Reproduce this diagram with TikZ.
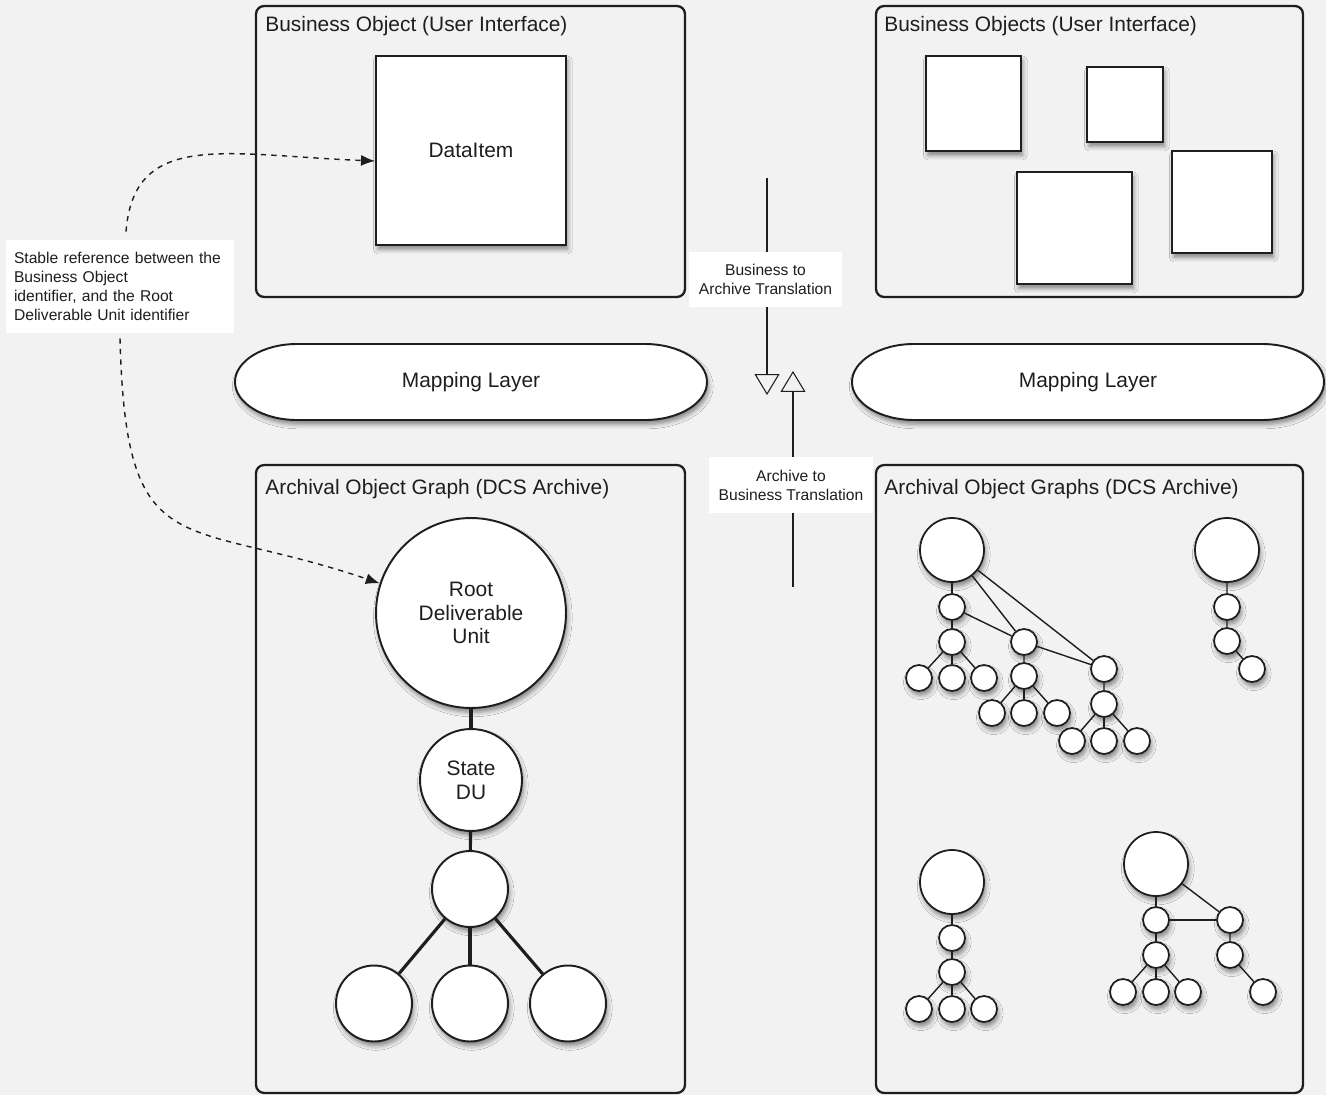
\documentclass[tikz,border=0pt]{standalone}
\usepackage{fontspec}
\setmainfont{Liberation Sans}
\usetikzlibrary{arrows.meta,shadows.blur}
\definecolor{bggrey}{HTML}{F2F2F2}
\definecolor{ink}{HTML}{1E1E1E}
\tikzset{
  panel/.style={draw=ink, line width=1.3pt, rounded corners=0.16cm, inner sep=0pt},
  paneltitle/.style={anchor=base west, inner sep=0pt, text=ink, font=\fontsize{11.9}{14}\selectfont},
  whitefill/.style={fill=white, blur shadow={shadow xshift=1pt, shadow yshift=-2.5pt, shadow blur radius=2.5pt, shadow opacity=45}},
  duitem/.style={whitefill, draw=ink, line width=1.1pt, inner sep=0pt, text=ink, font=\fontsize{11.9}{13.6}\selectfont, align=center},
  duball/.style={duitem, circle},
  bigdot/.style={whitefill, circle, draw=ink, line width=1pt, minimum size=1.28cm, inner sep=0pt},
  smalldot/.style={bigdot, minimum size=0.52cm},
  link/.style={draw=ink, line width=1.8pt},
  twig/.style={draw=ink, line width=0.8pt},
  note/.style={fill=white, inner sep=0pt, text=ink, font=\fontsize{8.9}{10.8}\selectfont, align=center},
  maplabel/.style={inner sep=0pt, text=ink, font=\fontsize{11.9}{14}\selectfont},
  refline/.style={dashed, line width=0.8pt, draw=ink, -{Latex[length=0.28cm,width=0.22cm]}},
  transline/.style={line width=0.6pt, draw=ink, -{Triangle[open,length=0.42cm,width=0.5cm]}}
}
\begin{document}
\begin{tikzpicture}[x=0.02cm,y=-0.02cm]
\fill[bggrey] (0,0) rectangle (1326,1095);
\useasboundingbox (0,0) rectangle (1326,1095);
%business object
\node[panel, minimum width=8.58cm, minimum height=5.82cm] (boui) at (470.5,151.5) {};
\node[paneltitle] (boui title) at (265,32) {Business Object (User Interface)};
\node[duitem, minimum width=3.8cm, minimum height=3.78cm] (dataitem) at (471,150.5) {DataItem};
%business objects
\node[panel, minimum width=8.54cm, minimum height=5.82cm] (bosui) at (1089.5,151.5) {};
\node[paneltitle] (bosui title) at (884,32) {Business Objects (User Interface)};
\node[duitem, minimum width=1.9cm, minimum height=1.9cm] (bo1) at (973.5,103.5) {};
\node[duitem, minimum width=1.52cm, minimum height=1.5cm] (bo2) at (1125,104.5) {};
\node[duitem, minimum width=2.3cm, minimum height=2.24cm] (bo3) at (1074.5,228) {};
\node[duitem, minimum width=2cm, minimum height=2.04cm] (bo4) at (1222,202) {};
%mapping layers
\draw[whitefill, draw=ink, line width=1.1pt] (297,344) -- ++(348,0) .. controls +(34,0) and +(0,-21) .. ++(62,38) .. controls +(0,21) and +(34,0) .. ++(-62,38) -- ++(-348,0) .. controls +(-34,0) and +(0,21) .. ++(-62,-38) .. controls +(0,-21) and +(-34,0) .. ++(62,-38) -- cycle;
\node[maplabel] (mapl) at (471,382) {Mapping Layer};
\draw[whitefill, draw=ink, line width=1.1pt] (914,344) -- ++(348,0) .. controls +(34,0) and +(0,-21) .. ++(62,38) .. controls +(0,21) and +(34,0) .. ++(-62,38) -- ++(-348,0) .. controls +(-34,0) and +(0,21) .. ++(-62,-38) .. controls +(0,-21) and +(-34,0) .. ++(62,-38) -- cycle;
\node[maplabel] (mapr) at (1088,382) {Mapping Layer};
%archival object graph
\node[panel, minimum width=8.58cm, minimum height=12.56cm] (aog) at (470.5,779) {};
\node[paneltitle] (aog title) at (265,494) {Archival Object Graph (DCS Archive)};
\node[duball, minimum size=3.8cm] (rdu) at (471,613) {Root\\Deliverable\\Unit};
\node[duball, minimum size=2.04cm] (sdu) at (471,780) {State\\DU};
\node[duball, minimum size=1.52cm] (du) at (470,889) {};
\foreach \n/\x in {1/374,2/470,3/568}
  \node[duball, minimum size=1.52cm] (du\n) at (\x,1003.5) {};
\draw[link] (rdu) -- (sdu);
\draw[link] (sdu) -- (du);
\foreach \n in {1,2,3}
  \draw[link] (du) -- (du\n);
%archival object graphs
\node[panel, minimum width=8.54cm, minimum height=12.56cm] (aogs) at (1089.5,779) {};
\node[paneltitle] (aogs title) at (884,494) {Archival Object Graphs (DCS Archive)};
\node[bigdot] (ga) at (952,550) {};
\node[smalldot] (ga1) at (952,607) {};
\node[smalldot] (ga2) at (952,642) {};
\node[smalldot] (gb1) at (1024,642) {};
\node[smalldot] (gb2) at (1024,676) {};
\node[smalldot] (gc1) at (1104,669) {};
\node[smalldot] (gc2) at (1104,704) {};
\foreach \n/\x in {1/919,2/952,3/984}
  \node[smalldot] (ga2\n) at (\x,678) {};
\foreach \n/\x in {1/992,2/1024,3/1057}
  \node[smalldot] (gb2\n) at (\x,713) {};
\foreach \n/\x in {1/1072,2/1104,3/1137}
  \node[smalldot] (gc2\n) at (\x,741) {};
\draw[twig] (ga) -- (ga1) -- (ga2);
\draw[twig] (ga1) -- (gb1) -- (gb2);
\draw[twig] (ga) -- (gb1) -- (gc1) -- (gc2);
\draw[twig] (ga) -- (gc1);
\foreach \n in {1,2,3}
  \draw[twig] (ga2) -- (ga2\n) (gb2) -- (gb2\n) (gc2) -- (gc2\n);
\node[bigdot] (gd) at (1227,550) {};
\node[smalldot] (gd1) at (1227,607) {};
\node[smalldot] (gd2) at (1227,641) {};
\node[smalldot] (gd3) at (1252,669) {};
\draw[twig] (gd) -- (gd1) -- (gd2) -- (gd3);
\node[bigdot] (ge) at (952,882) {};
\node[smalldot] (ge1) at (952,938) {};
\node[smalldot] (ge2) at (952,972) {};
\foreach \n/\x in {1/919,2/952,3/984}
  \node[smalldot] (ge2\n) at (\x,1009) {};
\draw[twig] (ge) -- (ge1) -- (ge2);
\foreach \n in {1,2,3}
  \draw[twig] (ge2) -- (ge2\n);
\node[bigdot] (gf) at (1156,864) {};
\node[smalldot] (gf1) at (1156,920) {};
\node[smalldot] (gg1) at (1230,920) {};
\node[smalldot] (gf2) at (1156,955) {};
\node[smalldot] (gg2) at (1230,955) {};
\node[smalldot] (gg3) at (1263,992) {};
\foreach \n/\x in {1/1123,2/1156,3/1188}
  \node[smalldot] (gf2\n) at (\x,992) {};
\draw[twig] (gf) -- (gf1) -- (gf2);
\draw[twig] (gf) -- (gg1) -- (gg2) -- (gg3);
\draw[twig] (gf1) -- (gg1);
\foreach \n in {1,2,3}
  \draw[twig] (gf2) -- (gf2\n);
%translations
\coordinate (b2a from) at (767,178);
\coordinate (b2a to) at (767,395);
\draw[transline] (b2a from) -- (b2a to);
\node[note, minimum width=3.06cm, minimum height=1.1cm] (b2a) at (765.5,279.5) {Business to\\Archive Translation};
\coordinate (a2b from) at (793,587);
\coordinate (a2b to) at (793,371);
\draw[transline] (a2b from) -- (a2b to);
\node[note, minimum width=3.28cm, minimum height=1.12cm] (a2b) at (791,485) {Archive to\\Business Translation};
%stable reference
\node[note, align=left, text width=4.24cm, minimum height=1.86cm, inner xsep=0.16cm] (stable) at (120,286.5) {Stable reference between the\\Business Object\\identifier, and the Root\\Deliverable Unit identifier};
\draw[refline] ([xshift=0.12cm,yshift=0.16cm]stable.north) .. controls +(8,-102) and +(-150,-6) .. ([yshift=-0.21cm]dataitem.west);
\draw[refline] ([yshift=-0.1cm]stable.south) .. controls +(6,230) and +(-200,-68) .. (rdu.162);
\end{tikzpicture}
\end{document}
